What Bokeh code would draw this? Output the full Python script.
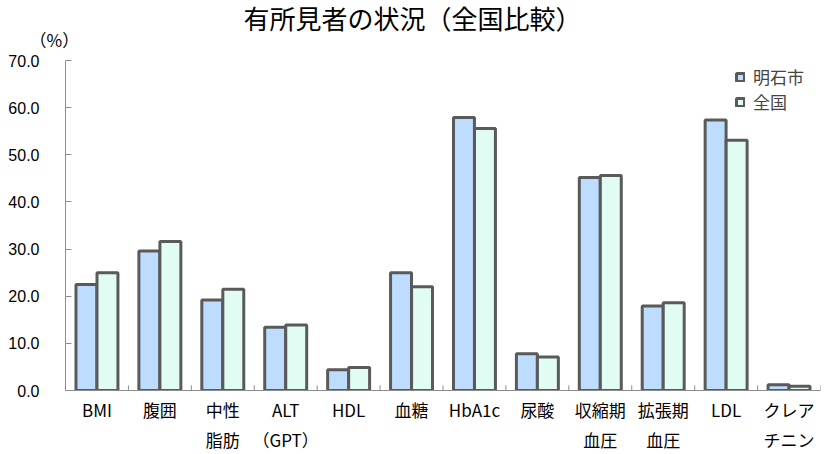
from bokeh.plotting import figure
from bokeh.models import FactorRange, Range1d, Legend, LegendItem, Title, NumeralTickFormatter, FixedTicker, ColumnDataSource
from bokeh.transform import dodge
from bokeh.embed import file_html
from bokeh.resources import INLINE

categories = ["BMI", "腹囲", "中性\n脂肪", "ALT\n（GPT）", "HDL", "血糖", "HbA1c", "尿酸",
              "収縮期\n血圧", "拡張期\n血圧", "LDL", "クレア\nチニン"]
akashi = [22.5, 29.6, 19.2, 13.4, 4.4, 25.0, 57.9, 7.8, 45.2, 17.9, 57.4, 1.2]
zenkoku = [25.0, 31.6, 21.5, 13.9, 4.9, 22.0, 55.6, 7.1, 45.6, 18.6, 53.1, 0.9]
y_ticks = [0, 10, 20, 30, 40, 50, 60, 70]
series_names = ["明石市", "全国"]
title_text = "有所見者の状況（全国比較）"
unit_text = "（%）"

JP = "Noto Sans CJK JP"
NUM = "Liberation Sans"

src = ColumnDataSource(dict(cat=categories, a=akashi, z=zenkoku))

p = figure(width=826, height=454, x_range=FactorRange(*categories, range_padding=0),
           y_range=Range1d(0, 70), output_backend="svg", toolbar_location=None,
           min_border_left=65, min_border_right=6, min_border_top=60, min_border_bottom=64)
p.outline_line_color = None
p.xgrid.grid_line_color = None
p.ygrid.grid_line_color = None

outline = "#5a5a5a"
r1 = p.vbar(x=dodge("cat", -0.167, range=p.x_range), top="a", width=0.333, source=src,
            fill_color="#bddcfe", line_color=outline, line_width=3)
r2 = p.vbar(x=dodge("cat", 0.167, range=p.x_range), top="z", width=0.333, source=src,
            fill_color="#e1fcf3", line_color=outline, line_width=3)

bx = list(range(1, len(categories) + 1))
p.segment(x0=bx, y0=[0] * len(bx), x1=bx, y1=[1.1] * len(bx), line_color="#8c8c8c", line_width=1)

ax = p.yaxis[0]
ax.ticker = FixedTicker(ticks=y_ticks)
ax.formatter = NumeralTickFormatter(format="0.0")
ax.axis_line_color = "#8c8c8c"
ax.major_tick_line_color = "#8c8c8c"
ax.major_tick_in = 6
ax.major_tick_out = 0
ax.minor_tick_line_color = None
ax.major_label_text_font = NUM
ax.major_label_text_font_size = "16px"
ax.major_label_text_color = "#000000"
ax.major_label_standoff = 26

xa = p.xaxis[0]
xa.axis_line_color = "#8c8c8c"
xa.major_tick_line_color = None
xa.major_tick_in = 0
xa.major_tick_out = 0
xa.major_label_text_font = JP
xa.major_label_text_font_size = "17px"
xa.major_label_text_color = "#000000"
xa.major_label_standoff = 6

# outer title row: chart title
p.title.text = title_text
p.title.text_font = JP
p.title.text_font_size = "26px"
p.title.text_font_style = "normal"
p.title.text_color = "#000000"
p.title.align = "left"
p.title.offset = 178
p.title.standoff = -38

# inner title row: unit label
unit_title = Title(text=unit_text, text_font=JP, text_font_size="17px", text_font_style="normal",
                   text_color="#000000", align="left", offset=-36, standoff=17)
p.add_layout(unit_title, "above")

legend = Legend(items=[LegendItem(label=series_names[0], renderers=[r1]),
                       LegendItem(label=series_names[1], renderers=[r2])],
                location=(670, 276), glyph_width=10, glyph_height=10,
                label_text_font=JP, label_text_font_size="17px", label_standoff=8,
                spacing=0, padding=2, margin=0, border_line_color=None,
                background_fill_alpha=0)
p.add_layout(legend)

open("out.html", "w").write(file_html(p, INLINE))
